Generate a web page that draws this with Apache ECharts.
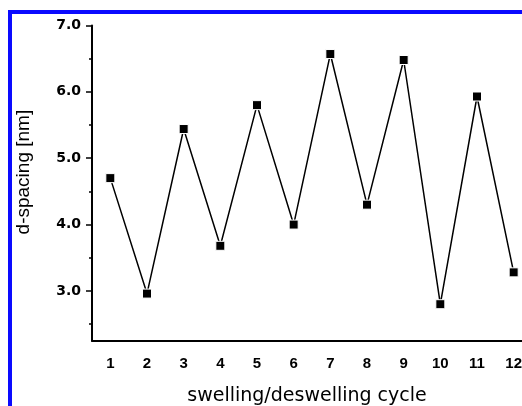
<!DOCTYPE html>
<html>
<head>
<meta charset="utf-8">
<script src="https://cdn.jsdelivr.net/npm/echarts@6/dist/echarts.min.js"></script>
<style>
    html, body {margin: 0; padding: 0; background: #fff;}
    #chart {width: 522px; height: 406px;}
</style>
</head>
<body>
<div id="chart"></div>
<script>
// cycles on the x axis
const cycles = ['1', '2', '3', '4', '5', '6', '7', '8', '9', '10', '11', '12'];
// d-spacing in nm
const dSpacing = [4.70, 2.96, 5.44, 3.68, 5.80, 4.00, 6.57, 4.30, 6.48, 2.80, 5.93, 3.28];
// y tick labels (major) and minor tick positions
const yMajorTicks = [3, 4, 5, 6, 7];
const yMinorTicks = [2.5, 3.5, 4.5, 5.5, 6.5];

const font = 'Liberation Sans, Arial, sans-serif';
const wideFont = 'DejaVu Sans, sans-serif'; // the figure text is a bit stretched sideways
const chart = echarts.init(document.getElementById('chart'), null, {renderer: 'canvas'});

const option = {
    animation: false,
    backgroundColor: '#fff',
    grid: {
        left: 92,
        top: 25.5,
        right: -10,
        bottom: 65.3,
        containLabel: false,
        outerBoundsMode: 'none'
    },
    xAxis: {
        type: 'category',
        data: cycles,
        boundaryGap: true,
        name: 'swelling/deswelling cycle',
        nameLocation: 'middle',
        nameGap: 46,
        nameTextStyle: {fontFamily: wideFont, fontSize: 19, color: '#000', padding: [0, 10, 0, 0]},
        axisLine: {lineStyle: {color: '#000', width: 2}},
        axisTick: {alignWithLabel: true, length: 5, lineStyle: {color: '#000', width: 2}},
        axisLabel: {fontFamily: font, fontSize: 15, fontWeight: 'bold', color: '#000', margin: 16},
        splitLine: {show: false}
    },
    yAxis: [{
        type: 'value',
        min: 2.25,
        max: 7,
        name: 'd-spacing [nm]',
        nameLocation: 'middle',
        nameGap: 59,
        nameTextStyle: {fontFamily: font, fontSize: 19, color: '#000', padding: [0, 0, 0, 22]},
        axisLine: {show: true, lineStyle: {color: '#000', width: 2}},
        axisTick: {show: true, length: 6, customValues: yMajorTicks, lineStyle: {color: '#000', width: 1.5}},
        axisLabel: {
            customValues: yMajorTicks,
            fontFamily: wideFont, fontSize: 14, fontWeight: 'bold', color: '#000', margin: 11,
            formatter: v => v.toFixed(1)
        },
        splitLine: {show: false}
    }, {
        // only draws the short minor ticks
        type: 'value',
        min: 2.25,
        max: 7,
        position: 'left',
        axisLine: {show: false},
        axisTick: {show: true, length: 3, customValues: yMinorTicks, lineStyle: {color: '#000', width: 1.5}},
        axisLabel: {show: false},
        splitLine: {show: false}
    }],
    series: [{
        type: 'line',
        data: dSpacing,
        symbol: 'rect',
        symbolSize: 9,
        lineStyle: {color: '#000', width: 1.5},
        itemStyle: {color: '#000', borderColor: '#fff', borderWidth: 1}
    }],
    graphic: [
        // blue frame of the figure panel
        {type: 'rect', shape: {x: 8, y: 10, width: 514, height: 4}, style: {fill: '#0a0aff'}},
        {type: 'rect', shape: {x: 8, y: 10, width: 4, height: 396}, style: {fill: '#0a0aff'}}
    ]
};

chart.setOption(option);
</script>
</body>
</html>
